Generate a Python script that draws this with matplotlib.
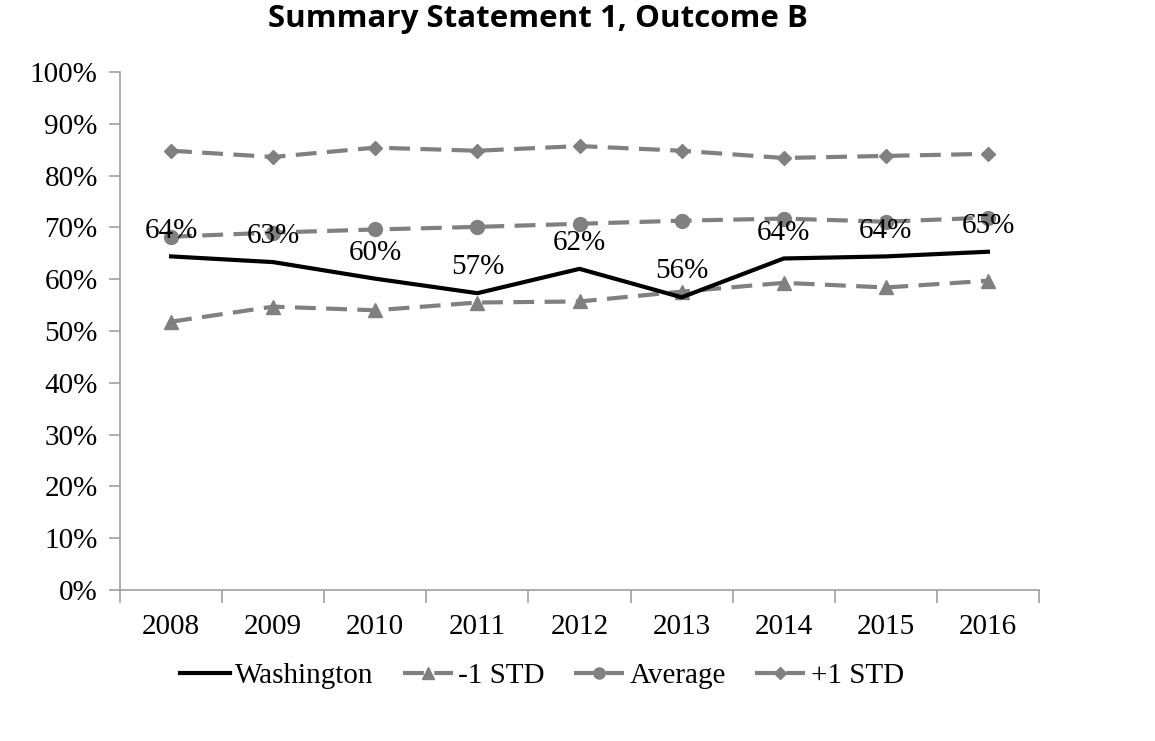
import numpy as np
import matplotlib.pyplot as plt
from matplotlib.ticker import FuncFormatter

years = ["2008", "2009", "2010", "2011", "2012", "2013", "2014", "2015", "2016"]
washington = [64.4, 63.3, 60.1, 57.3, 62.0, 56.5, 64.0, 64.4, 65.3]
minus_std = [51.8, 54.7, 54.0, 55.5, 55.7, 57.6, 59.3, 58.4, 59.7]
average = [68.2, 69.0, 69.6, 70.1, 70.7, 71.3, 71.7, 71.1, 71.9]
plus_std = [84.8, 83.6, 85.4, 84.8, 85.7, 84.8, 83.4, 83.8, 84.2]
labels = ["64%", "63%", "60%", "57%", "62%", "56%", "64%", "64%", "65%"]

serif = ["Liberation Serif", "DejaVu Serif"]
gray = "#808080"
axis_gray = "#a0a0a0"
fs = 21

fig = plt.figure(figsize=(11.55, 7.41), dpi=100)
ax = fig.add_axes([120 / 1155, 1 - 590 / 741, 919 / 1155, 518 / 741])

x = np.arange(len(years))
dash = (0, (5, 2.5))
ax.plot(x, washington, color="black", lw=3, label="Washington", zorder=4)
ax.plot(x, minus_std, color=gray, lw=3, ls=dash, marker="^", ms=10, label="-1 STD")
ax.plot(x, average, color=gray, lw=3, ls=dash, marker="o", ms=10, label="Average")
ax.plot(x, plus_std, color=gray, lw=3, ls=dash, marker="D", ms=7.5, label="+1 STD")

for xi, yi, lab in zip(x, washington, labels):
    ax.text(xi, yi + 5.0, lab, ha="center", va="center", fontsize=fs, family=serif, color="black", zorder=5)

ax.set_xlim(-0.5, len(years) - 0.5)
ax.set_ylim(0, 100)
ax.set_yticks(np.arange(0, 101, 10))
ax.yaxis.set_major_formatter(FuncFormatter(lambda v, p: f"{v:.0f}%"))
ax.set_xticks(x)
ax.set_xticklabels(years)
ax.set_xticks(np.arange(-0.5, len(years), 1), minor=True)
ax.tick_params(axis="x", which="major", length=0, pad=17)
ax.tick_params(axis="x", which="minor", length=9, color=axis_gray, width=1.2)
ax.tick_params(axis="y", length=8, color=axis_gray, width=1.2, pad=8)
for lab in ax.get_xticklabels() + ax.get_yticklabels():
    lab.set_family(serif)
    lab.set_fontsize(fs)

for s in ["top", "right"]:
    ax.spines[s].set_visible(False)
for s in ["left", "bottom"]:
    ax.spines[s].set_color(axis_gray)
    ax.spines[s].set_linewidth(1.2)

fig.suptitle("Summary Statement 1, Outcome B", x=538 / 1155, y=0.995, fontsize=22.5,
             fontweight="bold", family=["Open Sans", "DejaVu Sans"])

leg = ax.legend(loc="upper center", bbox_to_anchor=(0.459, -0.09), ncol=4, frameon=False,
                prop={"family": serif, "size": fs}, handlelength=1.7, handletextpad=0.2,
                columnspacing=1.0, markerscale=0.8)

fig.savefig("out.png", dpi=100)
